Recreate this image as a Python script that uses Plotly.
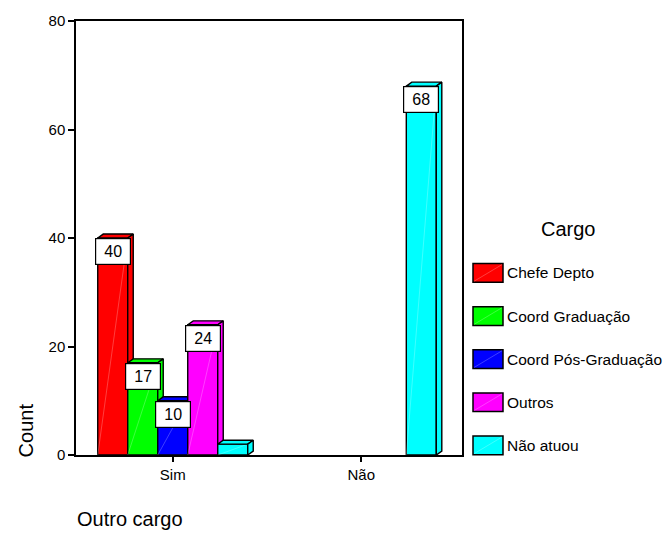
import plotly.graph_objects as go

# ---- data -------------------------------------------------------------
groups = ["Sim", "Não"]                      # Outro cargo
cargos = ["Chefe Depto", "Coord Graduação", "Coord Pós-Graduação",
          "Outros", "Não atuou"]
counts_sim = [40, 17, 10, 24, 2]
counts_nao = [0, 0, 0, 0, 68]
colors = ["#ff0000", "#00ff00", "#0000ff", "#ff00ff", "#00ffff"]
y_ticks = [0, 20, 40, 60, 80]

FONT = "Arial, Liberation Sans, sans-serif"

# ---- geometry of the plotting frame (pixels) --------------------------
W, H = 666, 534
L, R, T, B = 76, 462, 14, 455
x_range = [-0.513, 1.534]
y_range = [0, 80]
ux = (R - L) / (x_range[1] - x_range[0])     # px per x unit
uy = (B - T) / (y_range[1] - y_range[0])     # px per y unit

bar_w = 30 / ux            # bar width in x units
depth_x = 5.5 / ux         # 3-D depth offset
depth_y = 4 / uy
label_h_px = 27            # value box height


def px_x(p):
    return (p - L) / (R - L)


def px_y(p):
    return (B - p) / (B - T)


fig = go.Figure()


def poly(xs, ys, fill, lw=1.4, lc="black"):
    fig.add_trace(go.Scatter(
        x=xs + [xs[0]], y=ys + [ys[0]], mode="lines", fill="toself",
        fillcolor=fill, line=dict(color=lc, width=lw),
        hoverinfo="skip", showlegend=False))


annotations = []
for gi, values in enumerate([counts_sim, counts_nao]):
    for k, v in enumerate(values):
        if v <= 0:
            continue
        c = gi + (k - (len(values) - 1) / 2) * bar_w
        x0, x1 = c - bar_w / 2, c + bar_w / 2
        col = colors[k]
        # front face
        poly([x0, x1, x1, x0], [0, 0, v, v], col)
        # faint glare line across the front face
        fig.add_trace(go.Scatter(
            x=[x0, x1], y=[0, v], mode="lines",
            line=dict(color="rgba(255,255,255,0.35)", width=0.7),
            hoverinfo="skip", showlegend=False))
        # top face
        poly([x0, x1, x1 + depth_x, x0 + depth_x],
             [v, v, v + depth_y, v + depth_y], col)
        # side face
        poly([x1, x1 + depth_x, x1 + depth_x, x1],
             [0, depth_y, v + depth_y, v], col)
        # value box, only where the bar is tall enough to hold it
        if v * uy >= label_h_px:
            annotations.append(dict(
                x=c, y=v, xref="x", yref="y", text=str(v),
                showarrow=False, xanchor="center", yanchor="top",
                width=34, height=25, bgcolor="white",
                bordercolor="black", borderwidth=1.2, borderpad=0,
                font=dict(family=FONT, size=16, color="black")))

# ---- legend drawn as swatches + text ----------------------------------
shapes = []
item_y0, item_step = 270, 43.8
for k, name in enumerate(cargos):
    yc = item_y0 + k * item_step
    shapes.append(dict(
        type="rect", xref="paper", yref="paper",
        x0=px_x(473), x1=px_x(503), y0=px_y(yc + 9.5), y1=px_y(yc - 9.5),
        fillcolor=colors[k], line=dict(color="black", width=1.5)))
    shapes.append(dict(
        type="line", xref="paper", yref="paper",
        x0=px_x(474), x1=px_x(502), y0=px_y(yc + 8.5), y1=px_y(yc - 8.5),
        line=dict(color="rgba(255,255,255,0.35)", width=0.7)))
    annotations.append(dict(
        x=px_x(505), y=px_y(yc), xref="paper", yref="paper", text=name,
        showarrow=False, xanchor="left", yanchor="middle",
        font=dict(family=FONT, size=15.5, color="black")))

annotations.append(dict(
    x=px_x(568), y=px_y(225), xref="paper", yref="paper", text="Cargo",
    showarrow=False, xanchor="center", yanchor="middle",
    font=dict(family=FONT, size=20, color="black")))

# axis titles
annotations.append(dict(
    x=px_x(26), y=px_y(430), xref="paper", yref="paper", text="Count",
    showarrow=False, xanchor="center", yanchor="middle", textangle=-90,
    font=dict(family=FONT, size=20, color="black")))
annotations.append(dict(
    x=px_x(75), y=px_y(520), xref="paper", yref="paper", text="Outro cargo",
    showarrow=False, xanchor="left", yanchor="middle",
    font=dict(family=FONT, size=20, color="black")))

fig.update_layout(
    width=W, height=H,
    margin=dict(l=L, r=W - R, t=T, b=H - B, pad=0),
    plot_bgcolor="white", paper_bgcolor="white",
    showlegend=False,
    font=dict(family=FONT, size=15, color="black"),
    xaxis=dict(range=x_range, tickvals=[0, 1], ticktext=groups,
               showgrid=False, zeroline=False, showline=True, mirror=True,
               linecolor="black", linewidth=1.5, ticks="outside",
               ticklen=5, tickwidth=1.5, tickcolor="black",
               tickfont=dict(family=FONT, size=15)),
    yaxis=dict(range=y_range, tickvals=y_ticks,
               showgrid=False, zeroline=False, showline=True, mirror=True,
               linecolor="black", linewidth=1.5, ticks="outside",
               ticklen=6, tickwidth=1.5, tickcolor="black",
               tickfont=dict(family=FONT, size=15)),
    shapes=shapes,
    annotations=annotations,
)

fig.write_html("out.html")
